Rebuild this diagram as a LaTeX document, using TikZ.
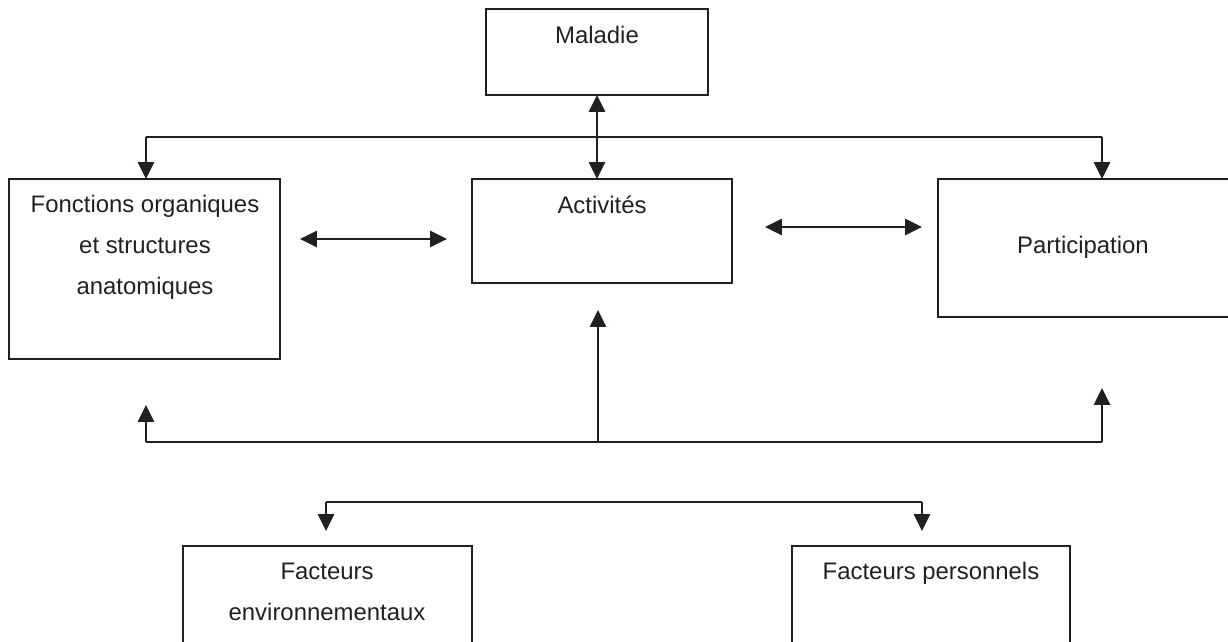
\documentclass[tikz,border=0pt]{standalone}
\usepackage{fontspec}
\setmainfont{Liberation Sans}
\usetikzlibrary{arrows.meta}
\definecolor{ink}{RGB}{35,31,32}
\begin{document}
\begin{tikzpicture}[x=0.025cm,y=-0.025cm,
  box/.style={draw=ink,line width=1.6pt,inner sep=0pt,outer sep=0pt,anchor=north west},
  lbl/.style={anchor=base,inner sep=0pt,text=ink,font=\fontsize{17}{20}\selectfont},
  conn/.style={draw=ink,line width=1.5pt},
  arr/.style={conn,-{Triangle[length=0.42cm,width=0.4cm]}},
  darr/.style={conn,{Triangle[length=0.42cm,width=0.4cm]}-{Triangle[length=0.42cm,width=0.4cm]}}]
\useasboundingbox (0,0) rectangle (1228,641);
% boxes
\node[box,minimum width=5.55cm,minimum height=2.15cm] (mal) at (486,9) {};
\node[box,minimum width=6.775cm,minimum height=4.5cm] (fon) at (9,179) {};
\node[box,minimum width=6.5cm,minimum height=2.6cm] (act) at (472,179) {};
\node[box,minimum width=7.55cm,minimum height=3.45cm] (par) at (938,179) {};
\node[box,minimum width=7.225cm,minimum height=3.1cm] (env) at (183,546) {};
\node[box,minimum width=6.95cm,minimum height=3.1cm] (per) at (792,546) {};
% labels
\node[lbl] (tmal) at (597,43) {Maladie};
\node[lbl] (tact) at (602,213) {Activités};
\node[lbl] (tfon1) at (145,212) {Fonctions organiques};
\node[lbl] (tfon2) at (145,253) {et structures};
\node[lbl] (tfon3) at (145,294) {anatomiques};
\node[lbl] (tpar) at (1083,253) {Participation};
\node[lbl] (tenv1) at (327,579) {Facteurs};
\node[lbl] (tenv2) at (327,620) {environnementaux};
\node[lbl] (tper) at (931,579) {Facteurs personnels};
% coordinates
\coordinate (m1) at (597,95);
\coordinate (tl) at (146,137);
\coordinate (tr) at (1102,137);
\coordinate (fa1) at (300,239);
\coordinate (fa2) at (447,239);
\coordinate (ap1) at (765,227);
\coordinate (ap2) at (922,227);
\coordinate (bl) at (146,442);
\coordinate (bm) at (598,442);
\coordinate (br) at (1102,442);
\coordinate (blt) at (146,405);
\coordinate (bmt) at (598,310);
\coordinate (brt) at (1102,388);
\coordinate (el) at (326,502);
\coordinate (er) at (922,502);
\coordinate (elt) at (326,531);
\coordinate (ert) at (922,531);
% connectors
\draw[darr] (m1) -- (m1 |- act.north);
\draw[conn] (tl) -- (tr);
\draw[arr] (tl) -- (tl |- fon.north);
\draw[arr] (tr) -- (tr |- par.north);
\draw[darr] (fa1) -- (fa2);
\draw[darr] (ap1) -- (ap2);
\draw[conn] (bl) -- (br);
\draw[arr] (bl) -- (blt);
\draw[arr] (bm) -- (bmt);
\draw[arr] (br) -- (brt);
\draw[conn] (el) -- (er);
\draw[arr] (el) -- (elt);
\draw[arr] (er) -- (ert);
\end{tikzpicture}
\end{document}
